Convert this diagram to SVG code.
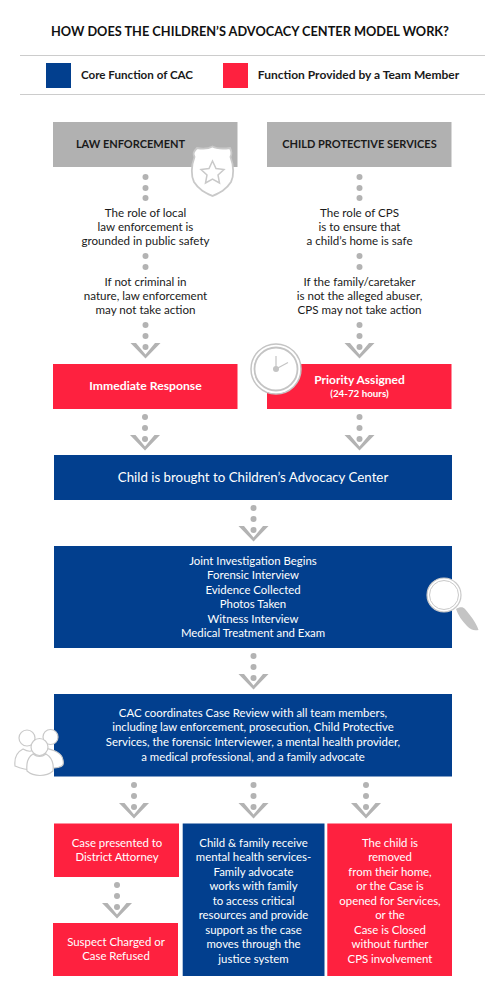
<svg xmlns="http://www.w3.org/2000/svg" width="500" height="1000" viewBox="0 0 500 1000">
<style>
text{font-family:"Lato","Open Sans","Liberation Sans",sans-serif;text-anchor:middle}
.t{font-size:11.600px;fill:#1a1a1a}
.w{font-size:11.400px;fill:#fff}
.b{font-weight:700}
.h{font-size:11px}
.blue{fill:#023f8e}
.red{fill:#fe213f}
.gray{fill:#b1b1b1}
.rule{stroke:#ccc;stroke-width:1;fill:none}
</style>
<defs>
<g id="dots" fill="#b3b3b3"><circle cx="0" cy="0" r="3"/><circle cx="0" cy="11" r="3"/></g>
<g id="arr" fill="#b3b3b3"><use href="#dots"/><circle cx="0" cy="22" r="3"/><path d="M-15 18H-9.500L0 29.500L9.500 18H15L0 33.500Z"/></g>
</defs>
<rect width="500" height="1000" fill="#fff"/>
<g id="title"><text x="250" y="36" class="b" style="font-size:13.500px;fill:#111" textLength="398" lengthAdjust="spacingAndGlyphs">HOW DOES THE CHILDREN’S ADVOCACY CENTER MODEL WORK?</text></g>
<g id="legend">
<path class="rule" d="M20 55.500H485M20 94.500H485"/>
<rect class="blue" x="46" y="63" width="25" height="25"/>
<rect class="red" x="223" y="63" width="25" height="25"/>
<text x="137" y="79" class="t b">Core Function of CAC</text>
<text x="358.500" y="79" class="b" style="font-size:12px;fill:#1a1a1a">Function Provided by a Team Member</text>
</g>
<g id="connectors">
<use href="#dots" x="145.500" y="177"/><circle cx="145.500" cy="198" r="3" fill="#b3b3b3"/>
<use href="#dots" x="359.500" y="177"/><circle cx="359.500" cy="198" r="3" fill="#b3b3b3"/>
<use href="#dots" x="145.500" y="256"/>
<use href="#dots" x="359.500" y="256"/>
<use href="#arr" x="145.500" y="325"/>
<use href="#arr" x="359.500" y="325"/>
<use href="#arr" x="145" y="417"/>
<use href="#arr" x="359.500" y="417"/>
<use href="#arr" x="253.500" y="508"/>
<use href="#arr" x="253.500" y="656"/>
<use href="#arr" x="134" y="785"/>
<use href="#arr" x="253.500" y="785"/>
<use href="#arr" x="366" y="785"/>
<use href="#arr" x="117" y="885"/>
</g>
<g id="law-enforcement">
<rect class="gray" x="53" y="122" width="184.500" height="45"/>
<text x="130.500" y="148" class="t b h">LAW ENFORCEMENT</text>
</g>
<g id="badge">
<path d="M197 148C203 149 208 149 212.500 146.500C217 149 222 149 230 148C232 152 232 154 230.500 157C234 166 234 176 231 182C226 190 219 193 212.500 196C206 193 199 190 194 182C191 176 191 166 194.500 157C193 154 193 152 197 148Z" fill="#fff" stroke="#c9c9c9" stroke-width="1.800"/>
<path d="M212.500 161L216 168.500L224 169.500L218 175L219.500 183L212.500 179L205.500 183L207 175L201 169.500L209 168.500Z" fill="none" stroke="#c9c9c9" stroke-width="1.500"/>
</g>
<g id="child-protective-services">
<rect class="gray" x="267" y="122" width="184.500" height="45"/>
<text x="359.500" y="148" class="t b h">CHILD PROTECTIVE SERVICES</text>
</g>
<g id="le-text">
<text class="t"><tspan x="145.500" y="217">The role of local</tspan><tspan x="145.500" y="231">law enforcement is</tspan><tspan x="145.500" y="245">grounded in public safety</tspan></text>
<text class="t"><tspan x="145.500" y="286">If not criminal in</tspan><tspan x="145.500" y="300">nature, law enforcement</tspan><tspan x="145.500" y="314">may not take action</tspan></text>
</g>
<g id="cps-text">
<text class="t"><tspan x="359.500" y="217">The role of CPS</tspan><tspan x="359.500" y="231">is to ensure that</tspan><tspan x="359.500" y="245">a child’s home is safe</tspan></text>
<text class="t"><tspan x="359.500" y="286">If the family/caretaker</tspan><tspan x="359.500" y="300">is not the alleged abuser,</tspan><tspan x="359.500" y="314">CPS may not take action</tspan></text>
</g>
<g id="immediate-response">
<rect class="red" x="53" y="364" width="184.500" height="45"/>
<text x="145.500" y="390" class="w b" style="font-size:12.200px">Immediate Response</text>
</g>
<g id="priority-assigned">
<rect class="red" x="267" y="364" width="184.500" height="45"/>
<text x="359.500" y="384" class="w b" style="font-size:12px">Priority Assigned</text>
<text x="359.500" y="397" class="w b" style="font-size:9.800px">(24-72 hours)</text>
</g>
<g id="clock">
<circle cx="276" cy="369" r="25" fill="#fff" stroke="#c4c4c4" stroke-width="1.500"/>
<circle cx="276" cy="369" r="21.500" fill="#fff" stroke="#c4c4c4" stroke-width="1.800"/>
<path d="M276 369V356M276 369L288 362.500" stroke="#c4c4c4" stroke-width="1.200" fill="none"/>
<circle cx="276" cy="369" r="3" fill="#c4c4c4"/>
</g>
<g id="brought">
<rect class="blue" x="54" y="455" width="398" height="45"/>
<text x="253" y="482" class="w" style="font-size:13.300px">Child is brought to Children’s Advocacy Center</text>
</g>
<g id="joint-investigation">
<rect class="blue" x="54" y="546" width="398" height="102"/>
<text class="w"><tspan x="253" y="565">Joint Investigation Begins</tspan><tspan x="253" y="579">Forensic Interview</tspan><tspan x="253" y="594">Evidence Collected</tspan><tspan x="253" y="608">Photos Taken</tspan><tspan x="253" y="623">Witness Interview</tspan><tspan x="253" y="637">Medical Treatment and Exam</tspan></text>
</g>
<g id="magnifier">
<path d="M456 609C459 607 463 606.500 465 609C470 615 476 622 478.500 630C474 631 471 630 467 626C462 621 458 615 456 609Z" fill="#c4c4c4"/>
<circle cx="444" cy="595" r="17" fill="#fff" stroke="#c9c9c9" stroke-width="1.200"/>
<circle cx="444" cy="595" r="14.500" fill="#fff" stroke="#c9c9c9" stroke-width="1"/>
</g>
<g id="case-review">
<rect class="blue" x="54" y="694" width="398" height="82.500"/>
<text class="w"><tspan x="253" y="717">CAC coordinates Case Review with all team members,</tspan><tspan x="253" y="731">including law enforcement, prosecution, Child Protective</tspan><tspan x="253" y="746">Services, the forensic Interviewer, a mental health provider,</tspan><tspan x="253" y="761">a medical professional, and a family advocate</tspan></text>
</g>
<g id="people" fill="#fff" stroke="#c9c9c9" stroke-width="1.200">
<path d="M45 748C53 750 62 752 63 760C64 765 63 766 58 767.500L46 769Z"/>
<circle cx="50.500" cy="737" r="7.500"/>
<path d="M15 766C14 757 17 752 23 749C28 752 32 752 35 749C40 752 44 756 44 769C34 771 24 770 15 766Z"/>
<circle cx="27" cy="738" r="8"/>
<path d="M27 771C26 762 28 757 33 754C37 757 42 757 46 754C51 757 54 763 53 771C46 777 34 777 27 771Z"/>
<circle cx="39.500" cy="747" r="8.500"/>
</g>
<g id="case-presented">
<rect class="red" x="54" y="823.500" width="125" height="53.500"/>
<text class="w"><tspan x="117" y="847">Case presented to</tspan><tspan x="117" y="861">District Attorney</tspan></text>
</g>
<g id="mental-health">
<rect class="blue" x="182.700" y="823.500" width="141.800" height="152.500"/>
<text class="w"><tspan x="253.500" y="847">Child &amp; family receive</tspan><tspan x="253.500" y="861">mental health services-</tspan><tspan x="253.500" y="876">Family advocate</tspan><tspan x="253.500" y="890">works with family</tspan><tspan x="253.500" y="905">to access critical</tspan><tspan x="253.500" y="919">resources and provide</tspan><tspan x="253.500" y="934">support as the case</tspan><tspan x="253.500" y="948">moves through the</tspan><tspan x="253.500" y="963">justice system</tspan></text>
</g>
<g id="child-removed">
<rect class="red" x="327.300" y="823.500" width="124.700" height="152.500"/>
<text class="w"><tspan x="390" y="847">The child is</tspan><tspan x="390" y="861">removed</tspan><tspan x="390" y="876">from their home,</tspan><tspan x="390" y="890">or the Case is</tspan><tspan x="390" y="905">opened for Services,</tspan><tspan x="390" y="919">or the</tspan><tspan x="390" y="934">Case is Closed</tspan><tspan x="390" y="948">without further</tspan><tspan x="390" y="963">CPS involvement</tspan></text>
</g>
<g id="suspect-charged">
<rect class="red" x="53" y="923" width="125" height="53"/>
<text class="w"><tspan x="116" y="946">Suspect Charged or</tspan><tspan x="116" y="960">Case Refused</tspan></text>
</g>
</svg>
